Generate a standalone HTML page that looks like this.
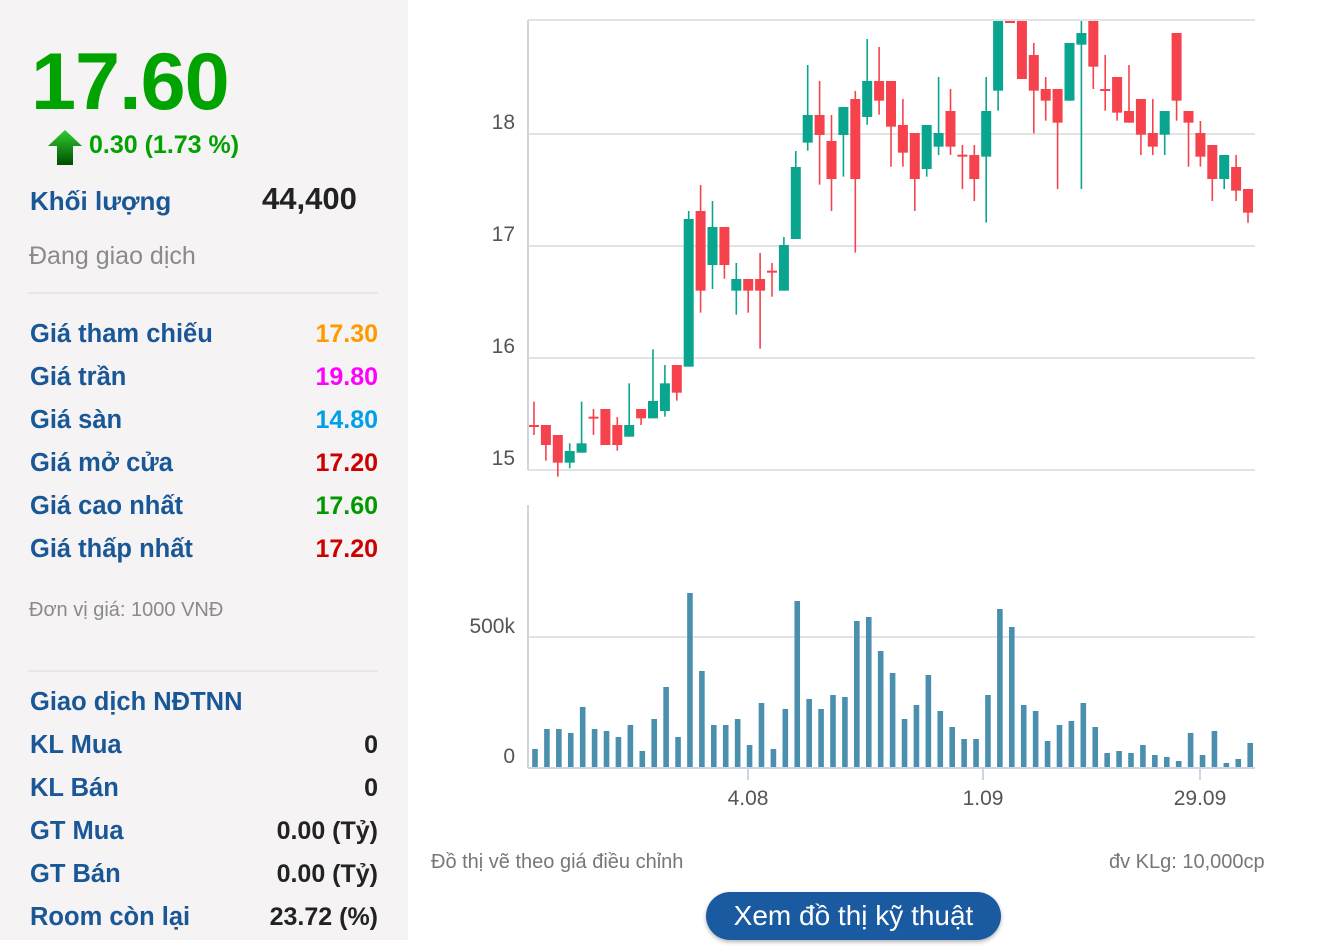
<!DOCTYPE html>
<html><head><meta charset="utf-8"><style>
body{margin:0;width:1338px;height:950px;background:#fff;position:relative;overflow:hidden;font-family:"Liberation Sans",Arial,sans-serif}
#lp{position:absolute;left:0;top:0;width:408px;height:940px;background:#f5f3f3}
.t{position:absolute;white-space:nowrap;line-height:1}
.lb{left:30px;font-size:25.5px;font-weight:bold;color:#1a5796}
.v{right:960px;font-size:25px;font-weight:bold;text-align:right}
.hr{position:absolute;left:28px;width:350px;height:2px;background:#e8e6e6}
</style></head><body>
<div id="lp"></div>
<div class="t" style="left:31px;top:42px;font-size:81px;font-weight:bold;color:#00a300;letter-spacing:-1px">17.60</div>
<svg style="position:absolute;left:48px;top:130px" width="34" height="36"><defs><linearGradient id="g" x1="0" y1="0" x2="0" y2="1"><stop offset="0" stop-color="#2fcf2f"/><stop offset="1" stop-color="#004d00"/></linearGradient></defs><polygon points="17,0 34,16 25,16 25,35 9,35 9,16 0,16" fill="url(#g)"/></svg>
<div class="t" style="left:89px;top:133px;font-size:25px;font-weight:bold;color:#00a300">0.30 (1.73 %)</div>
<div class="t lb" style="top:188px;font-size:26px">Khối lượng</div>
<div class="t" style="left:262px;top:183px;font-size:31px;font-weight:bold;color:#222">44,400</div>
<div class="t" style="left:29px;top:244px;font-size:25px;color:#8a8a8a">Đang giao dịch</div>
<div class="hr" style="top:292px"></div>
<div class="t lb" style="top:322px">Giá tham chiếu</div><div class="t v" style="top:322px;color:#ff9900">17.30</div>
<div class="t lb" style="top:365px">Giá trần</div><div class="t v" style="top:365px;color:#ff00ff">19.80</div>
<div class="t lb" style="top:408px">Giá sàn</div><div class="t v" style="top:408px;color:#00a0e8">14.80</div>
<div class="t lb" style="top:451px">Giá mở cửa</div><div class="t v" style="top:451px;color:#cc0000">17.20</div>
<div class="t lb" style="top:494px">Giá cao nhất</div><div class="t v" style="top:494px;color:#009900">17.60</div>
<div class="t lb" style="top:537px">Giá thấp nhất</div><div class="t v" style="top:537px;color:#cc0000">17.20</div>
<div class="t" style="left:29px;top:600px;font-size:20px;color:#8a8a8a">Đơn vị giá: 1000 VNĐ</div>
<div class="hr" style="top:670px"></div>
<div class="t lb" style="top:690px">Giao dịch NĐTNN</div>
<div class="t lb" style="top:733px">KL Mua</div><div class="t v" style="top:733px;color:#222">0</div>
<div class="t lb" style="top:776px">KL Bán</div><div class="t v" style="top:776px;color:#222">0</div>
<div class="t lb" style="top:819px">GT Mua</div><div class="t v" style="top:819px;color:#222">0.00 (Tỷ)</div>
<div class="t lb" style="top:862px">GT Bán</div><div class="t v" style="top:862px;color:#222">0.00 (Tỷ)</div>
<div class="t lb" style="top:905px">Room còn lại</div><div class="t v" style="top:905px;color:#222">23.72 (%)</div>

<svg id="ch" style="position:absolute;left:0;top:0" width="1338" height="950" font-family="Liberation Sans, Arial, sans-serif">
<g stroke="#e3e3e6" stroke-width="2">
<line x1="528" y1="20" x2="1255" y2="20"/><line x1="528" y1="134" x2="1255" y2="134"/><line x1="528" y1="246" x2="1255" y2="246"/><line x1="528" y1="358" x2="1255" y2="358"/><line x1="528" y1="470" x2="1255" y2="470"/><line x1="528" y1="637" x2="1255" y2="637"/>
</g>
<g stroke="#ccd6e3" stroke-width="2"><line x1="528" y1="20" x2="528" y2="470"/><line x1="528" y1="505" x2="528" y2="768"/><line x1="528" y1="768" x2="1255" y2="768"/>
<line x1="748" y1="768" x2="748" y2="780"/><line x1="983" y1="768" x2="983" y2="780"/><line x1="1200" y1="768" x2="1200" y2="780"/></g>
<g font-size="21" fill="#555" text-anchor="end"><text x="515" y="129">18</text><text x="515" y="241">17</text><text x="515" y="353">16</text><text x="515" y="465">15</text><text x="515" y="633">500k</text><text x="515" y="763">0</text></g>
<g font-size="21" fill="#555" text-anchor="middle"><text x="748" y="805">4.08</text><text x="983" y="805">1.09</text><text x="1200" y="805">29.09</text></g>
<g id="cd"></g>
</svg>
<div class="t" style="left:431px;top:852px;font-size:20px;color:#777">Đồ thị vẽ theo giá điều chỉnh</div>
<div class="t" style="left:1109px;top:852px;font-size:20px;color:#777">đv KLg: 10,000cp</div>
<div style="position:absolute;left:706px;top:892px;width:295px;height:48px;border-radius:24px;background:#1a5aa0;box-shadow:0 2px 4px rgba(0,0,0,.3);color:#fff;font-size:28px;text-align:center;line-height:48px">Xem đồ thị kỹ thuật</div>
<script>
var A=[['r',1245,1251,1175,1275],['r',1245,1305,1245,1352],['r',1275,1358,1275,1400],['g',1323,1358,1300,1375],['g',1300,1328,1175,1328],['r',1220,1226,1197,1275],['r',1197,1305,1197,1305],['r',1245,1305,1221,1322],['g',1245,1280,1120,1280],['r',1197,1225,1197,1245],['g',1173,1225,1018,1225],['g',1120,1203,1065,1220],['r',1065,1148,1065,1172],['g',627,1070,603,1070],['r',603,842,525,908],['g',651,765,573,837],['r',651,765,651,806],['g',807,842,759,914],['r',807,842,807,908],['r',807,842,729,1016],['r',782,788,759,860],['g',705,842,681,842],['g',471,687,423,687],['g',315,398,165,422],['r',315,375,213,524],['r',393,507,315,603],['g',291,375,291,500],['r',267,507,243,728],['g',213,321,87,344],['r',213,272,111,314],['r',213,350,213,470],
['r',345,428,267,470],['r',369,507,369,603],['g',345,477,345,500],['g',369,410,201,435],['r',303,410,237,435],['r',434,440,405,537],['r',435,507,405,573],['g',303,440,201,638],['g',33,242,33,302],['r',33,39,33,39],['r',33,207,33,207],['r',135,242,99,370],['r',237,272,201,332],['r',237,338,237,537],['g',99,272,99,272],['g',69,104,33,537],['r',33,170,33,237],['r',237,243,135,302],['r',201,308,201,332],['r',303,338,165,338],['r',267,374,267,435],['r',369,410,267,435],['g',303,374,303,435],['r',69,272,69,332],['r',303,338,303,470],['r',369,440,333,470],['r',405,507,405,573],['g',435,507,435,537],['r',471,542,435,573],['r',537,608,537,638]];
var V=[507,447,447,459,381,447,453,471,435,513,417,321,471,39,273,435,435,417,495,369,507,387,63,357,387,345,351,123,111,213,279,417,375,285,393,441,477,477,345,87,141,375,393,483,435,423,369,441,519,513,519,495,525,531,543,459,525,453,549,537,489];
var s='',dx=11.9;
function y(z){return Math.max(20,10+z/3);}
for(var i=0;i<61;i++){var x=534+i*dx,a=A[i],c=a[0]=='g'?'#0aa58f':'#f5424c';
s+='<line x1="'+x+'" x2="'+x+'" y1="'+y(a[3])+'" y2="'+y(a[4])+'" stroke="'+c+'" stroke-width="1.6"/>';
var t=y(a[1]),b=y(a[2]);if(b-t<1.5)b=t+1.5;
s+='<rect x="'+(x-5)+'" y="'+t+'" width="10" height="'+(b-t)+'" fill="'+c+'"/>';
var vt=580+V[i]/3;s+='<rect x="'+(535+i*11.92-2.8)+'" y="'+vt+'" width="5.6" height="'+(767-vt)+'" fill="#4a8fae"/>';}
document.getElementById('cd').innerHTML=s;
</script>
</body></html>
